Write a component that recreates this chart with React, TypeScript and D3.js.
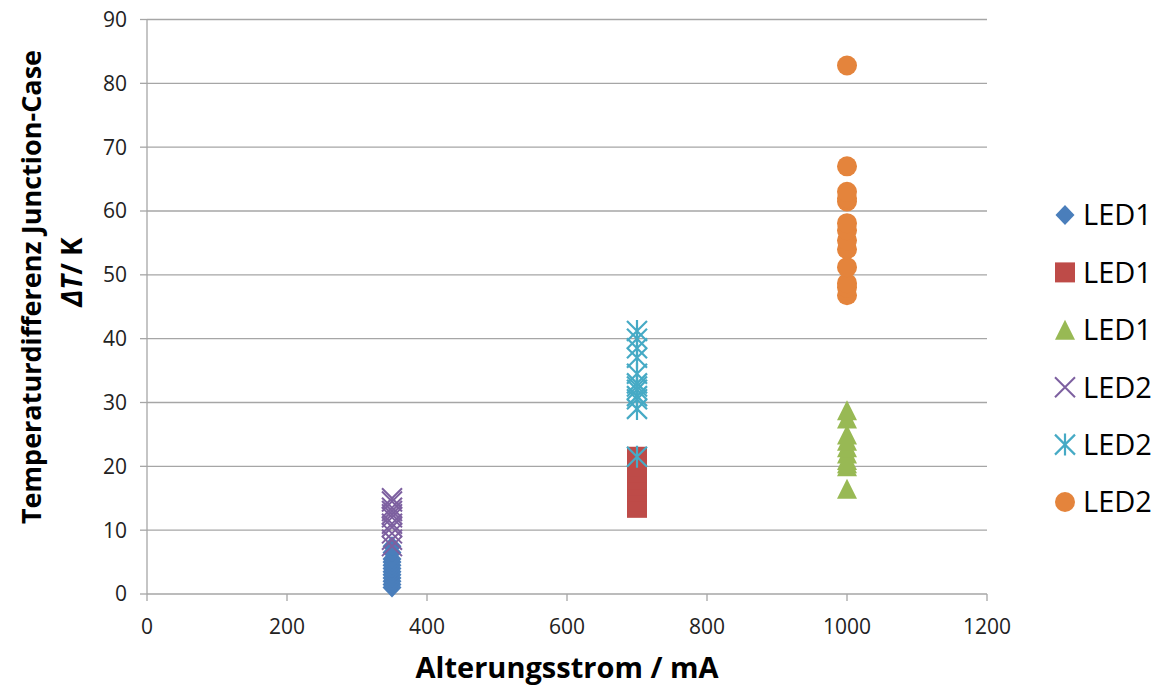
import React from "react";
import * as d3 from "d3";

// ---- data ----
const currents = [350, 700, 1000];
const xTicks = [0, 200, 400, 600, 800, 1000, 1200];
const yTicks = [0, 10, 20, 30, 40, 50, 60, 70, 80, 90];

const led1Diamond = [1, 1.5, 2, 2.5, 3, 3.5, 4, 4.5, 5, 5.5, 6.5, 7.5];
const led1Square = [13.5, 14.5, 15, 16, 17, 18, 19, 20, 21, 21.5];
const led1Triangle = [16.5, 20, 20.5, 21, 22, 23, 24, 25, 27.5, 28.8];
const led2X = [7.5, 8.5, 9.5, 10.5, 11, 12, 12.5, 13, 13.5, 14.5, 15];
const led2Star = [21.5, 29, 30.5, 31, 32, 32.5, 33, 34.5, 37, 38.5, 40, 41.2];
const led2Circle = [46.8, 48, 48.7, 51.2, 54, 55.4, 57, 58.1, 61.5, 62, 63, 67, 82.8];

const seriesNames = ["LED1", "LED1", "LED1", "LED2", "LED2", "LED2"];

type Shape = "diamond" | "square" | "triangle" | "x" | "star" | "circle";

const series: { name: string; current: number; values: number[]; shape: Shape; color: string }[] = [
  { name: seriesNames[0], current: currents[0], values: led1Diamond, shape: "diamond", color: "#4A7EBB" },
  { name: seriesNames[1], current: currents[1], values: led1Square, shape: "square", color: "#BE4B48" },
  { name: seriesNames[2], current: currents[2], values: led1Triangle, shape: "triangle", color: "#98B954" },
  { name: seriesNames[3], current: currents[0], values: led2X, shape: "x", color: "#7D60A0" },
  { name: seriesNames[4], current: currents[1], values: led2Star, shape: "star", color: "#46AAC5" },
  { name: seriesNames[5], current: currents[2], values: led2Circle, shape: "circle", color: "#E4843C" },
];

const W = 1159;
const H = 686;
const x = d3.scaleLinear().domain([0, 1200]).range([147, 987]);
const y = d3.scaleLinear().domain([0, 90]).range([594, 19.5]);

function Marker({ shape, cx, cy, color }: { shape: Shape; cx: number; cy: number; color: string }) {
  const s = 10;
  switch (shape) {
    case "diamond":
      return <path d={`M${cx},${cy - s}L${cx + s * 0.95},${cy}L${cx},${cy + s}L${cx - s * 0.95},${cy}Z`} fill={color} />;
    case "square":
      return <rect x={cx - s} y={cy - s} width={2 * s} height={2 * s} fill={color} />;
    case "triangle":
      return <path d={`M${cx},${cy - s}L${cx + s},${cy + s}L${cx - s},${cy + s}Z`} fill={color} />;
    case "circle":
      return <circle cx={cx} cy={cy} r={s} fill={color} />;
    case "x":
      return (
        <path
          d={`M${cx - s},${cy - s}L${cx + s},${cy + s}M${cx + s},${cy - s}L${cx - s},${cy + s}`}
          stroke={color}
          strokeWidth={2}
          fill="none"
        />
      );
    case "star":
      return (
        <path
          d={`M${cx - s},${cy - s}L${cx + s},${cy + s}M${cx + s},${cy - s}L${cx - s},${cy + s}M${cx},${cy - s * 1.1}L${cx},${cy + s * 1.1}`}
          stroke={color}
          strokeWidth={2.2}
          fill="none"
        />
      );
  }
}

export default function App() {
  const grid = "#a6a6a6";
  const font = "'Open Sans', sans-serif";
  return (
    <svg width={W} height={H} style={{ position: "absolute", left: 0, top: 0, background: "#fff" }}>
      {/* gridlines */}
      {yTicks.map((t) => (
        <line key={"g" + t} x1={x(0)} x2={x(1200)} y1={y(t)} y2={y(t)} stroke={grid} strokeWidth={1.3} />
      ))}
      {/* y axis */}
      <line x1={x(0)} x2={x(0)} y1={y(90)} y2={y(0)} stroke={grid} strokeWidth={1.3} />
      {yTicks.map((t) => (
        <line key={"yt" + t} x1={x(0) - 7} x2={x(0)} y1={y(t)} y2={y(t)} stroke={grid} strokeWidth={1.3} />
      ))}
      {yTicks.map((t) => (
        <text
          key={"yl" + t}
          x={x(0) - 20}
          y={y(t)}
          dy="0.35em"
          textAnchor="end"
          fontFamily={font}
          fontSize={21}
          fill="#222"
        >
          {t}
        </text>
      ))}
      {/* x axis ticks */}
      {xTicks.map((t) => (
        <line key={"xt" + t} x1={x(t)} x2={x(t)} y1={y(0)} y2={y(0) + 7} stroke={grid} strokeWidth={1.3} />
      ))}
      {xTicks.map((t) => (
        <text
          key={"xl" + t}
          x={x(t)}
          y={627}
          dy="0.35em"
          textAnchor="middle"
          fontFamily={font}
          fontSize={21}
          fill="#222"
        >
          {t}
        </text>
      ))}
      {/* data */}
      {series.map((s, i) => (
        <g key={"s" + i}>
          {s.values.map((v, j) => (
            <Marker key={j} shape={s.shape} cx={x(s.current)} cy={y(v)} color={s.color} />
          ))}
        </g>
      ))}
      {/* axis titles */}
      <text
        x={(x(0) + x(1200)) / 2}
        y={678}
        textAnchor="middle"
        fontFamily={font}
        fontWeight="bold"
        fontSize={29}
        fill="#000"
      >
        Alterungsstrom / mA
      </text>
      <g transform="translate(32,287) rotate(-90)">
        <text x={0} y={0} dy="0.35em" textAnchor="middle" fontFamily={font} fontWeight="bold" fontSize={27} fill="#000">
          Temperaturdifferenz Junction-Case
        </text>
      </g>
      <g transform="translate(72,272) rotate(-90)">
        <text x={0} y={0} dy="0.35em" textAnchor="middle" fontFamily={font} fontWeight="bold" fontSize={28} fill="#000">
          <tspan fontStyle="italic">ΔT</tspan>
          <tspan>/ K</tspan>
        </text>
      </g>
      {/* legend */}
      {series.map((s, i) => {
        const cy = 215 + i * 57.4;
        return (
          <g key={"lg" + i}>
            <Marker shape={s.shape} cx={1065} cy={cy} color={s.color} />
            <text x={1083} y={cy} dy="0.36em" fontFamily={font} fontSize={29} fill="#000">
              {s.name}
            </text>
          </g>
        );
      })}
    </svg>
  );
}
